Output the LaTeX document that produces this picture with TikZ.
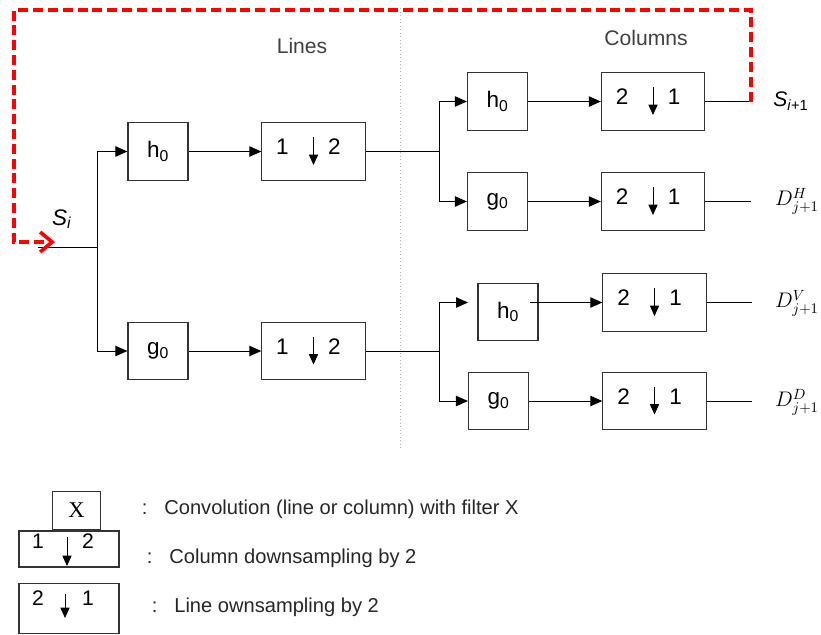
\RequirePackage{fix-cm}
\documentclass[tikz,border=0pt]{standalone}
\usepackage{amsmath}
\usepackage{fontspec}
\setmainfont{Liberation Sans}
\newfontfamily\serifx{Liberation Serif}
\usepackage{tikz}
\usetikzlibrary{arrows.meta, calc}
\tikzset{
  filt/.style={draw=black!80, line width=0.8pt, minimum width=1.5cm, minimum height=1.43cm, inner sep=0pt, font=\fontsize{16}{18}\selectfont},
  dsbox/.style={draw=black!80, line width=0.8pt, minimum width=2.58cm, minimum height=1.43cm, inner sep=0pt},
  num/.style={inner sep=0pt, font=\fontsize{16}{18}\selectfont},
  lnum/.style={inner sep=0pt, font=\fontsize{15}{16}\selectfont},
  sig/.style={line width=0.7pt},
  arrow/.style={-{Triangle[length=3mm, width=2.6mm]}, line width=0.7pt},
  dsarrow/.style={-{Triangle[length=2.6mm, width=2.3mm]}, line width=0.7pt},
  loopback/.style={red, line width=2.6pt, dash pattern=on 2.5mm off 1.2mm, -{Straight Barb[length=3mm, width=5mm]}},
  divider/.style={gray!60, dotted, line width=0.5pt},
  stage/.style={font=\fontsize{15}{18}\selectfont, text=black!75},
  outlabel/.style={font=\fontsize{15}{18}\selectfont},
  legend/.style={anchor=west, font=\fontsize{14.3}{16}\selectfont, text=black!85},
  every node/.style={font=\fontsize{15}{18}\selectfont}
}
% box with "a (down arrow) b" inside
\newcommand{\downsample}[4]{%
  \node[dsbox] (#1) at (#2) {};
  \node[num] (#1a) at ($(#1.center)+(-31,-4.5)$) {#3};
  \node[num] (#1b) at ($(#1.center)+(21,-4.5)$) {#4};
  \draw[dsarrow] ($(#1.center)+(0,-14.5)$) -- ($(#1.center)+(0,13.5)$);
}

\begin{document}
\begin{tikzpicture}[x=0.025cm, y=-0.025cm]
    \useasboundingbox (0,0) rectangle (821,634);

    \coordinate (divtop) at (400,8);
    \coordinate (divbot) at (400,448);
    \draw[divider] (divtop) -- (divbot);
    \node[stage] (lines) at (302,46) {Lines};
    \node[stage] (columns) at (646,38) {Columns};

    % line stage
    \coordinate (sin) at (38,247);
    \coordinate (j1) at (97,247);
    \node[filt] (hL) at (158,151.5) {h\textsubscript{0}};
    \node[filt] (gL) at (158,351) {g\textsubscript{0}};
    \downsample{dL1}{313.5,151.5}{1}{2}
    \downsample{dL2}{313.5,351}{1}{2}
    \node[font=\fontsize{16}{18}\selectfont] (si) at (62,219) {\textit{S}\textsubscript{\textit{i}}};

    \draw[sig] (sin) -- (j1);
    \draw[arrow] (j1) |- (hL);
    \draw[arrow] (j1) |- (gL);
    \draw[arrow] (hL) -- (dL1);
    \draw[arrow] (gL) -- (dL2);

    % column stage
    \coordinate (jt) at (439,151.5);
    \coordinate (jb) at (439,351);
    \node[filt] (hR1) at (497.5,101.5) {h\textsubscript{0}};
    \node[filt] (gR1) at (497.5,201.5) {g\textsubscript{0}};
    \node[filt] (hR2) at (508,312) {h\textsubscript{0}};
    \node[filt] (gR2) at (498.5,401) {g\textsubscript{0}};
    \downsample{dR1}{653,101.5}{2}{1}
    \downsample{dR2}{653,201.5}{2}{1}
    \downsample{dR3}{654.5,302.5}{2}{1}
    \downsample{dR4}{654.5,401}{2}{1}
    \coordinate (hR2in) at (468,302.5);
    \coordinate (hR2out) at (530,302.5);

    \draw[sig] (dL1) -- (jt);
    \draw[sig] (dL2) -- (jb);
    \draw[arrow] (jt) |- (hR1);
    \draw[arrow] (jt) |- (gR1);
    \draw[arrow] (jb) |- (hR2in);
    \draw[arrow] (jb) |- (gR2);
    \draw[arrow] (hR1) -- (dR1);
    \draw[arrow] (gR1) -- (dR2);
    \draw[arrow] (hR2out) -- (dR3);
    \draw[arrow] (gR2) -- (dR4);

    % outputs
    \coordinate (o1) at (751,101.5);
    \coordinate (o2) at (751,201.5);
    \coordinate (o3) at (752,302.5);
    \coordinate (o4) at (752,401);
    \draw[sig] (dR1) -- (o1);
    \draw[sig] (dR2) -- (o2);
    \draw[sig] (dR3) -- (o3);
    \draw[sig] (dR4) -- (o4);
    \node[outlabel] (snext) at (791,101) {\textit{S}\textsubscript{\textit{i}+1}};
    \node[outlabel] (dh) at (797,201) {$D^{H}_{j+1}$};
    \node[outlabel] (dv) at (797,303) {$D^{V}_{j+1}$};
    \node[outlabel] (dd) at (797,402) {$D^{D}_{j+1}$};

    % feedback to the next level
    \coordinate (fbtop) at (14,10);
    \coordinate (fbin) at (55,242);
    \draw[loopback] (o1) |- (fbtop) |- (fbin);

    % legend
    \node[draw=black!80, line width=0.8pt, minimum width=1.18cm, minimum height=0.93cm, inner sep=0pt, font=\serifx\fontsize{16}{16}\selectfont] (legx) at (76.5,510.5) {X};
    \node[dsbox, minimum width=2.5cm, minimum height=0.9cm] (lega) at (69,549) {};
    \node[lnum] (legaa) at (38,541) {1};
    \node[lnum] (legab) at (88,541) {2};
    \draw[dsarrow] (67,537) -- (67,566);
    \node[dsbox, minimum width=2.5cm, minimum height=1.23cm] (legb) at (69,608.5) {};
    \node[lnum] (legba) at (38,598) {2};
    \node[lnum] (legbb) at (88,598) {1};
    \draw[dsarrow] (65,594) -- (65,618);
    \node[legend] (tconv) at (137,509) {:\hspace{4.2mm}Convolution (line or column) with filter X};
    \node[legend] (tcol) at (142,558) {:\hspace{4.2mm}Column downsampling by 2};
    \node[legend] (tline) at (147,607) {:\hspace{4.2mm}Line ownsampling by 2};
\end{tikzpicture}
\end{document}
